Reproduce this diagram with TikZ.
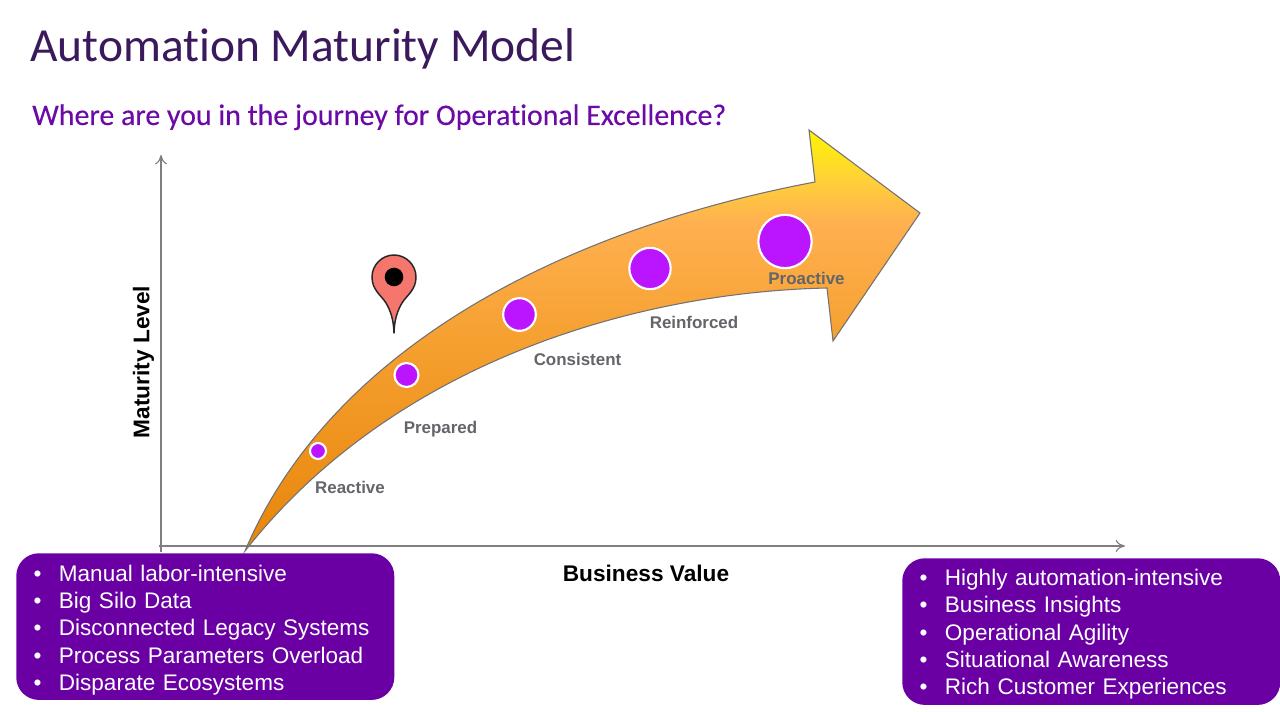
\documentclass[tikz,border=0pt]{standalone}
\usepackage{fontspec}
\setmainfont{Liberation Sans}
\newfontfamily\headfont[Ligatures=NoCommon]{Carlito}
\newfontfamily\subheadfont[Ligatures=NoCommon,FakeBold=0.25]{Carlito}
\usetikzlibrary{arrows.meta}
\definecolor{boxpurple}{HTML}{6A00A3}
\definecolor{titlepurple}{HTML}{3A1A5C}
\definecolor{subpurple}{HTML}{6C0AA8}
\definecolor{dotpurple}{HTML}{BB14FF}
\definecolor{stagegray}{HTML}{636569}
\definecolor{axisgray}{HTML}{7F7F7F}
\definecolor{pinred}{HTML}{F5766C}
\definecolor{gradE}{HTML}{E8850A}
\definecolor{gradM}{HTML}{F5A030}
\definecolor{gradH}{HTML}{FFB050}
\definecolor{gradY}{HTML}{FFD03A}
\definecolor{gradT}{HTML}{FFF500}
\pgfdeclareverticalshading{arrowfill}{100bp}{
 color(0bp)=(gradE);
 color(25bp)=(gradE);
 color(50bp)=(gradM);
 color(64bp)=(gradH);
 color(69bp)=(gradY);
 color(75bp)=(gradT);
 color(100bp)=(gradT)}
\tikzset{
 x=0.75pt,y=-0.75pt,
 axisline/.style={draw=axisgray,line width=0.8pt,-{To[length=7pt,width=9pt]}},
 dot/.style={circle,fill=dotpurple,draw=white,line width=1.6pt,inner sep=0pt},
 stage/.style={font=\bfseries\fontsize{12.7}{14}\selectfont,text=stagegray,inner sep=0pt},
 axislabel/.style={font=\bfseries\fontsize{17}{20}\selectfont,text=black,inner sep=0pt},
 listbox/.style={fill=boxpurple,rounded corners=17pt,text=white,anchor=north west,align=left,
   text width=257.5pt,inner xsep=13pt,inner ysep=0pt,minimum height=110pt,
   font=\fontsize{16.9}{20.4}\selectfont},
}
\newcommand{\itm}[1]{\makebox[19pt][l]{\textbullet}#1}
\begin{document}
\begin{tikzpicture}
\useasboundingbox (0,0) rectangle (1280,712);
\fill[white] (0,0) rectangle (1280,712);
\node[anchor=base west,inner sep=0pt,font=\headfont\fontsize{35.6}{42}\selectfont,text=titlepurple] (title) at (30,62) {Automation Maturity Model};
\node[anchor=base west,inner sep=0pt,font=\subheadfont\fontsize{22.4}{26}\selectfont,text=subpurple] (subtitle) at (32,125) {Where are you in the journey for Operational Excellence?};
% axes
\coordinate (yfoot) at (161,552);
\coordinate (ytop) at (161,155);
\coordinate (xfoot) at (159,546);
\coordinate (xend) at (1125,546);
\draw[axisline] (yfoot) -- (ytop);
\draw[axisline] (xfoot) -- (xend);
% arrow
\path[draw=axisgray!90!black,line width=0.8pt,shading=arrowfill,shading angle=0]
 (245,551) .. controls (330,350) and (560,230) .. (815,182)
 -- (809,130) -- (920,213) -- (833,341) -- (827,288)
 .. controls (640,292) and (395,360) .. (245,551) -- cycle;
% dots
\node[dot,minimum size=12pt] (d1) at (318,451) {};
\node[dot,minimum size=18pt] (d2) at (406.5,375) {};
\node[dot,minimum size=24.5pt] (d3) at (519.5,314.5) {};
\node[dot,minimum size=31pt] (d4) at (650,268.5) {};
\node[dot,minimum size=40pt] (d5) at (785,241.5) {};
\node[stage] (l1) at (350,487.5) {Reactive};
\node[stage] (l2) at (440.5,429) {Prepared};
\node[stage] (l3) at (577.5,359.5) {Consistent};
\node[stage] (l4) at (694,322) {Reinforced};
\node[stage] (l5) at (806.5,278.5) {Proactive};
% pin
\path[fill=pinred,draw=black!85,line width=1.1pt,line join=round]
 (394,333) .. controls (393.5,318) and (390,310) .. (386,303)
 .. controls (381,295) and (372,290) .. (372,277)
 .. controls (372,265) and (382,255) .. (394,255)
 .. controls (406,255) and (416,265) .. (416,277)
 .. controls (416,290) and (407,295) .. (402,303)
 .. controls (398,310) and (394.5,318) .. (394,333) -- cycle;
\fill[black] (394,277) circle[radius=9.3];
% labels
\node[axislabel,rotate=90] (ylab) at (143.5,362) {Maturity Level};
\node[axislabel] (xlab) at (646,573.5) {Business Value};
% boxes
\node[listbox] (left) at (16,553) {\rule{0pt}{17.5pt}\itm{Manual labor-intensive}\\\itm{Big Silo Data}\\\itm{Disconnected Legacy Systems}\\\itm{Process Parameters Overload}\\\itm{Disparate Ecosystems}};
\node[listbox] (right) at (902,558) {\rule{0pt}{16.2pt}\itm{Highly automation-intensive}\\\itm{Business Insights}\\\itm{Operational Agility}\\\itm{Situational Awareness}\\\itm{Rich Customer Experiences}};
\end{tikzpicture}
\end{document}
